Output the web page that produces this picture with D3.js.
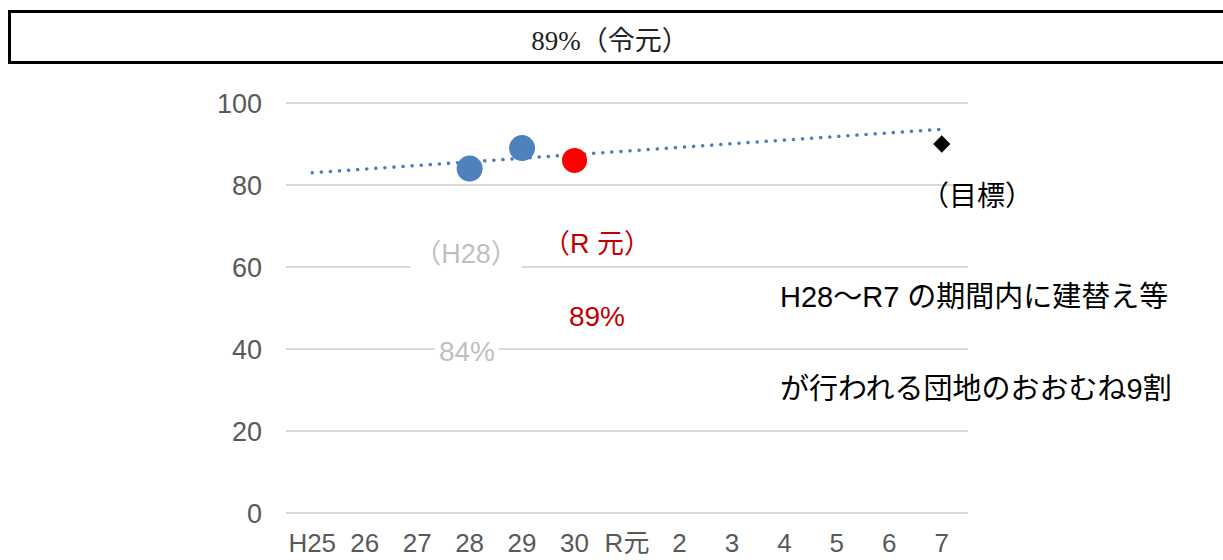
<!DOCTYPE html>
<html>
<head>
<meta charset="utf-8">
<script src="https://cdn.jsdelivr.net/npm/d3@7"></script>
<style>
  body { margin: 0; background: #fff; }
  svg { display: block; }
</style>
</head>
<body>
<div id="chart"></div>
<script>
// categories on the x axis
var years = ["H25", "26", "27", "28", "29", "30", "R元", "2", "3", "4", "5", "6", "7"];
var yTicks = [0, 20, 40, 60, 80, 100];

// actual values (blue), latest (red), target (diamond)
var actualYears = ["28", "29"];
var actualValues = [84, 89];
var latestYears = ["30"];
var latestValues = [86];
var targetYears = ["7"];
var targetValues = [90];

// linear trend end points
var trendYears = ["H25", "7"];
var trendValues = [83.0, 93.6];

var width = 1223, height = 560;
var margin = { top: 103, left: 286, right: 255, bottom: 47 };

var svg = d3.select("#chart")
    .append("svg")
    .attr("width", width)
    .attr("height", height);

// header box
svg.append("rect")
    .attr("x", 9.5).attr("y", 11.5)
    .attr("width", 1240).attr("height", 51)
    .attr("fill", "none")
    .attr("stroke", "#000")
    .attr("stroke-width", 3);

svg.append("text")
    .attr("x", 610).attr("y", 50)
    .attr("text-anchor", "middle")
    .attr("font-family", "'Liberation Serif', 'Noto Sans CJK JP', serif")
    .attr("font-size", 27)
    .attr("fill", "#222")
    .text("89%（令元）");

var x = d3.scaleBand()
    .domain(years)
    .range([margin.left, width - margin.right]);

var y = d3.scaleLinear()
    .domain([0, 100])
    .range([height - margin.bottom, margin.top]);

var cx = function (d) { return x(d) + x.bandwidth() / 2; };

// gridlines
svg.append("g")
    .selectAll("line")
    .data(yTicks)
    .enter().append("line")
    .attr("x1", margin.left)
    .attr("x2", width - margin.right)
    .attr("y1", function (d) { return y(d); })
    .attr("y2", function (d) { return y(d); })
    .attr("stroke", "#d9d9d9")
    .attr("stroke-width", 2);

// y axis labels
var yAxis = svg.append("g")
    .attr("transform", "translate(" + (margin.left - 24) + ",0)")
    .call(d3.axisLeft(y).tickValues(yTicks).tickSize(0).tickPadding(0));
yAxis.select(".domain").remove();
yAxis.selectAll("text")
    .attr("font-family", "Arial, 'Liberation Sans', sans-serif")
    .attr("font-size", 27)
    .attr("fill", "#595959")
    .attr("dy", "0.36em");

// x axis labels
var xAxis = svg.append("g")
    .attr("transform", "translate(0," + (y(0) + 22) + ")")
    .call(d3.axisBottom(x).tickSize(0).tickPadding(0));
xAxis.select(".domain").remove();
xAxis.selectAll("text")
    .attr("font-family", "Arial, 'Liberation Sans', 'Noto Sans CJK JP', sans-serif")
    .attr("font-size", 26)
    .attr("fill", "#595959")
    .attr("dy", "0.66em");

// annotations, some with a white backing over the gridlines
function label(tx, ty, str, color, size, anchor, bg) {
    var t = svg.append("text")
        .attr("x", tx).attr("y", ty)
        .attr("text-anchor", anchor || "middle")
        .attr("font-family", "Arial, 'Liberation Sans', 'Noto Sans CJK JP', sans-serif")
        .attr("font-size", size)
        .attr("fill", color)
        .text(str);
    if (bg) {
        var b = t.node().getBBox();
        svg.insert("rect", function () { return t.node(); })
            .attr("x", b.x - 4).attr("y", b.y)
            .attr("width", b.width + 8).attr("height", b.height)
            .attr("fill", "#fff");
    }
    return t;
}

label(466, 263, "（H28）", "#bfbfbf", 27, "middle", true);
label(467, 361, "84%", "#bfbfbf", 28, "middle", true);
label(597, 253, "（R 元）", "#c00000", 27);
label(597, 326, "89%", "#c00000", 28);
label(780, 307, "H28〜R7 の期間内に建替え等", "#000", 29, "start");
label(780, 399, "が行われる団地のおおむね9割", "#000", 29, "start");
label(977, 206, "（目標）", "#000", 28);

// trend line
var line = d3.line()
    .x(function (d) { return cx(d[0]); })
    .y(function (d) { return y(d[1]); });

svg.append("path")
    .datum(d3.zip(trendYears, trendValues))
    .attr("d", line)
    .attr("fill", "none")
    .attr("stroke", "#4a7ebb")
    .attr("stroke-width", 3.5)
    .attr("stroke-linecap", "round")
    .attr("stroke-dasharray", "0.1 9");

// actual points
svg.append("g")
    .selectAll("circle")
    .data(d3.zip(actualYears, actualValues))
    .enter().append("circle")
    .attr("cx", function (d) { return cx(d[0]); })
    .attr("cy", function (d) { return y(d[1]); })
    .attr("r", 13)
    .attr("fill", "#4f81bd");

svg.append("g")
    .selectAll("circle")
    .data(d3.zip(latestYears, latestValues))
    .enter().append("circle")
    .attr("cx", function (d) { return cx(d[0]); })
    .attr("cy", function (d) { return y(d[1]); })
    .attr("r", 12.5)
    .attr("fill", "#ff0000");

// target diamond
svg.append("g")
    .selectAll("path")
    .data(d3.zip(targetYears, targetValues))
    .enter().append("path")
    .attr("d", d3.symbol().type(d3.symbolDiamond2).size(190))
    .attr("transform", function (d) { return "translate(" + cx(d[0]) + "," + y(d[1]) + ")"; })
    .attr("fill", "#000");
</script>
</body>
</html>
